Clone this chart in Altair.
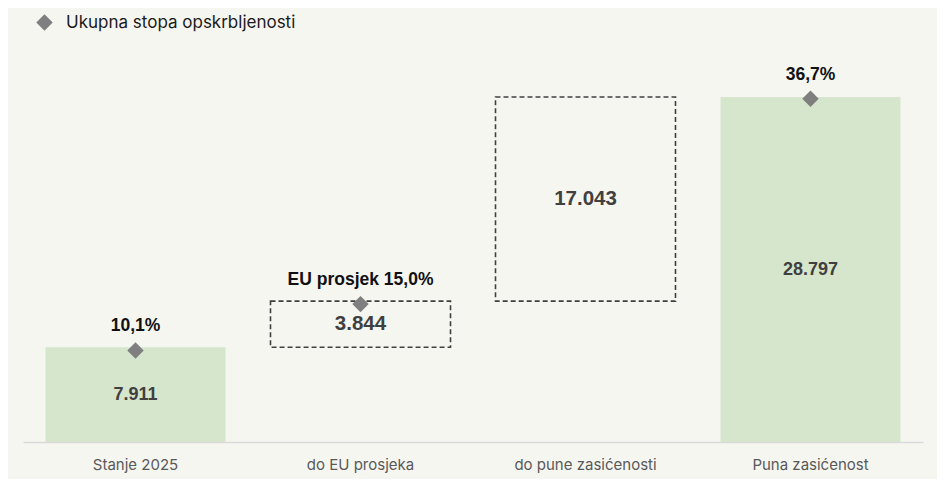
import altair as alt
import pandas as pd

categories = ["Stanje 2025", "do EU prosjeka", "do pune zasićenosti", "Puna zasićenost"]
starts = [0, 7911, 11755, 0]
ends = [7911, 11755, 28798, 28797]
values = ["7.911", "3.844", "17.043", "28.797"]
kinds = ["total", "step", "step", "total"]

rate_cats = ["Stanje 2025", "do EU prosjeka", "Puna zasićenost"]
rates = [10.1, 15.0, 36.7]
rate_labels = ["10,1%", "EU prosjek 15,0%", "36,7%"]
series_name = "Ukupna stopa opskrbljenosti"

bars = pd.DataFrame({"cat": categories, "start": starts, "end": ends,
                     "label": values, "kind": kinds})
pts = pd.DataFrame({"cat": rate_cats, "rate": rates, "label": rate_labels,
                    "series": [series_name] * len(rate_cats)})

BG = "#f6f6f1"
VAL_DOMAIN = [0, 30050]
RATE_DOMAIN = [0.43, 38.47]

xenc = alt.X("cat:N", sort=categories, title=None,
             scale=alt.Scale(paddingInner=0.2, paddingOuter=0.1),
             axis=alt.Axis(labelAngle=0, ticks=False, tickSize=0, labelPadding=15,
                           domainColor="#d9d9d9", domainWidth=1.5,
                           labelFont="Inter", labelFontSize=15, labelColor="#595959",
                           grid=False))

base = alt.Chart(bars).encode(x=xenc)

ysc = alt.Scale(domain=VAL_DOMAIN, nice=False, zero=False)

green = base.transform_filter(alt.datum.kind == "total").mark_bar(
    color="#d6e6cc").encode(
    y=alt.Y("start:Q", scale=ysc, axis=None), y2="end:Q")

boxes = base.transform_filter(alt.datum.kind == "step").mark_bar(
    fill=BG, fillOpacity=0, stroke="#404040", strokeWidth=1.6,
    strokeDash=[5, 3]).encode(
    y=alt.Y("start:Q", scale=ysc, axis=None), y2="end:Q")

green_txt = base.transform_filter(alt.datum.kind == "total").transform_calculate(
    mid="(datum.start + datum.end) / 2").mark_text(
    font="Liberation Sans", fontWeight="bold", fontSize=18, color="#404040",
    baseline="middle").encode(
    y=alt.Y("mid:Q", scale=ysc, axis=None), text="label:N")

box_txt = base.transform_filter(alt.datum.kind == "step").transform_calculate(
    mid="(datum.start + datum.end) / 2").mark_text(
    font="Liberation Sans", fontWeight="bold", fontSize=20.5, color="#404040",
    baseline="middle").encode(
    y=alt.Y("mid:Q", scale=ysc, axis=None), text="label:N")

rsc = alt.Scale(domain=RATE_DOMAIN, nice=False, zero=False)

pbase = alt.Chart(pts).encode(x=alt.X("cat:N", sort=categories, title=None))

diamonds = pbase.mark_point(shape="diamond", filled=True, size=270,
                            opacity=1, strokeWidth=0).encode(
    y=alt.Y("rate:Q", scale=rsc, axis=None),
    color=alt.Color("series:N", title=None,
                    scale=alt.Scale(range=["#7f7f7f"]),
                    legend=alt.Legend(orient="none", legendX=13, legendY=-68,
                                      padding=0, symbolSize=270, labelLimit=0,
                                      symbolStrokeWidth=0, labelFont="Inter",
                                      labelFontSize=17, labelColor="#1a1a1a",
                                      labelOffset=13, symbolType="diamond")),
)

rate_txt = pbase.mark_text(font="Liberation Sans", fontWeight="bold", fontSize=17.5,
                           color="#111111", baseline="middle", dy=-24).encode(
    y=alt.Y("rate:Q", scale=rsc, axis=None), text="label:N")

chart = alt.layer(green, boxes, green_txt, box_txt, diamonds, rate_txt).resolve_scale(
    y="independent").properties(
    width=900, height=360, background=BG,
    autosize=alt.AutoSizeParams(type="none"),
    padding={"left": 15, "top": 74, "right": 14, "bottom": 37},
).configure_view(stroke=None)

chart.save("out.html", embed_options={"renderer": "svg", "actions": False})
